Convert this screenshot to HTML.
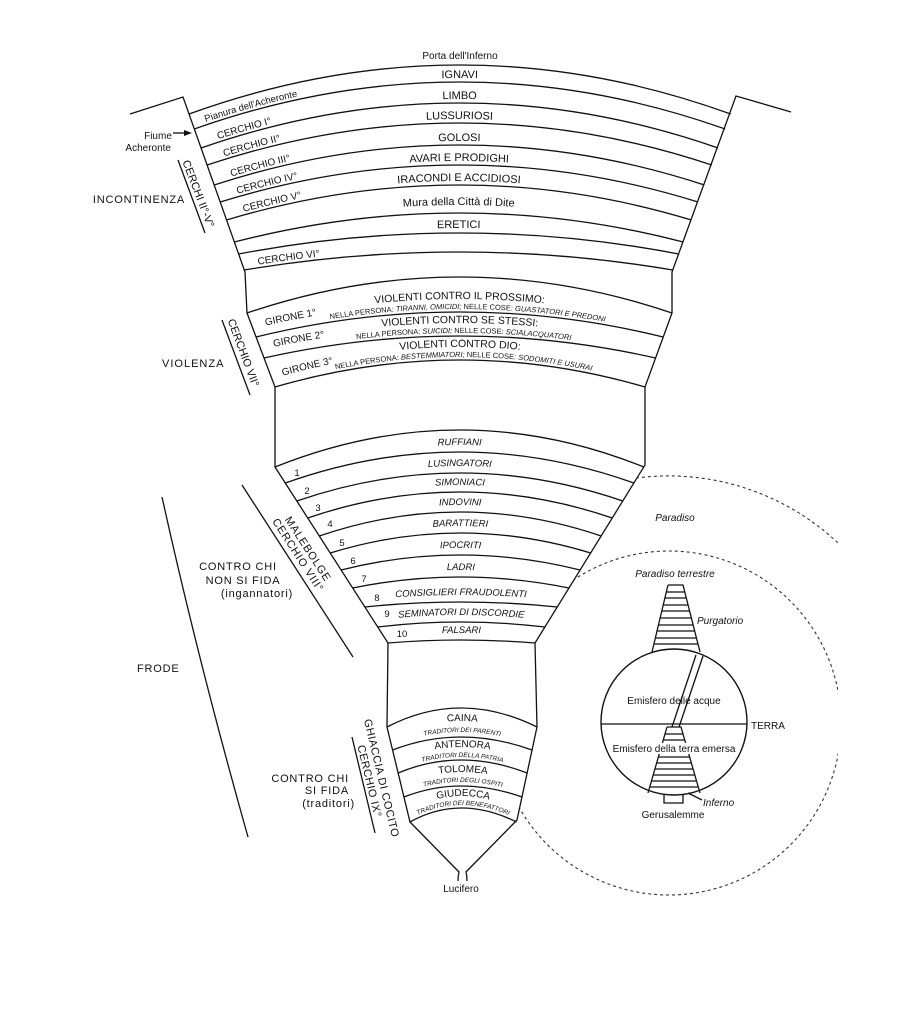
<!DOCTYPE html>
<html><head><meta charset="utf-8"><style>
html,body{margin:0;padding:0;background:#fff;}
svg{display:block;font-family:"Liberation Sans",sans-serif;}
.l{fill:none;stroke:#111;stroke-width:1.3;}
.t{font-size:11px;fill:#111;}
.s{font-size:10px;fill:#111;}
.i{font-style:italic;}
</style></head><body>
<svg width="920" height="1025" viewBox="0 0 920 1025" xmlns="http://www.w3.org/2000/svg">
<defs>
<path id="a2" d="M194.3,129 Q460,35 725.1,129"/>
<path id="a3" d="M201.1,148 Q460,58 718.1,148"/>
<path id="a4" d="M207.1,165 Q460,81 711.8,165"/>
<path id="a5" d="M214.2,185 Q460,105 704.4,185"/>
<path id="a6" d="M220.2,202 Q460,128 698,202"/>
<path id="a7" d="M226.5,220 Q460,150 691.4,220"/>
<path id="a8" d="M234.3,242 Q460,184 683.2,242"/>
<path id="a9" d="M238.6,254 Q460,212 678.8,254"/>
<path id="a10" d="M244.2,270 Q460,234 672.8,270"/>
<path id="v1" d="M256,337 Q460,287 663,337"/>
<path id="v2" d="M264,358 Q460,314 655.6,358"/>
<path id="v3" d="M275,387 Q460,333 645,387"/>
<path id="m1" d="M285.3,483 Q460,421 633.9,483"/>
<path id="m2" d="M296.8,501 Q460,445 622.8,501"/>
<path id="m3" d="M307.7,518 Q460,466 612.2,518"/>
<path id="m4" d="M319.3,536 Q460,488 601.1,536"/>
<path id="m5" d="M330.2,553 Q460,513 590.6,553"/>
<path id="m6" d="M341.1,570 Q460,540 580.1,570"/>
<path id="m7" d="M352.7,588 Q460,566 569,588"/>
<path id="m8" d="M364.9,607 Q460,597 557.2,607"/>
<path id="m9" d="M377.7,627 Q460,617 544.9,627"/>
<path id="m10" d="M388,643 Q460,637 535,643"/>
<path id="c1" d="M392.6,750 Q460,724 532,750"/>
<path id="c2" d="M398.1,773 Q460,747 527.1,773"/>
<path id="c3" d="M404,797 Q460,775 522,797"/>
<path id="c4" d="M410,822 Q460,794 516.6,822"/>
<clipPath id="clp"><rect x="0" y="0" width="838" height="1025"/></clipPath>
</defs>

<g fill="none" stroke="#333" stroke-width="1.1" stroke-dasharray="3,3">
<path d="M630,479 A247,247 0 0,1 838,543"/>
<circle cx="669" cy="723" r="172" clip-path="url(#clp)"/>
</g>

<path fill="#fff" stroke="none" d="M183,97 L245,272 L247,313 L275,387 L275,467 L388,643 L387,727 L410,822 L459,872 L466,872 L517,820 L537,727 L535,643 L645,465 L645,387 L672,313 L672,272 L737,97 L730.7,114 Q460,16 189,114 Z"/>

<path class="l" d="M130,114 L183,97 L245,272 L247,313 L275,387 L275,467 L388,643 L387,727 L410,822 L459,872 Q458,876 458,881"/>
<path class="l" d="M791,112 L736,96 L672,272 L672,313 L645,387 L645,465 L535,643 L537,727 L517,820 L466,872 Q467,876 467,881"/>

<path class="l" d="M189,114 Q460,16 730.7,114"/>
<use href="#a2" class="l"/><use href="#a3" class="l"/><use href="#a4" class="l"/><use href="#a5" class="l"/>
<use href="#a6" class="l"/><use href="#a7" class="l"/><use href="#a8" class="l"/><use href="#a9" class="l"/><use href="#a10" class="l"/>
<path class="l" d="M247,313 Q460,241 672,313"/>
<use href="#v1" class="l"/><use href="#v2" class="l"/><use href="#v3" class="l"/>
<path class="l" d="M275,467 Q460,393 643.8,467"/>
<use href="#m1" class="l"/><use href="#m2" class="l"/><use href="#m3" class="l"/><use href="#m4" class="l"/><use href="#m5" class="l"/>
<use href="#m6" class="l"/><use href="#m7" class="l"/><use href="#m8" class="l"/><use href="#m9" class="l"/><use href="#m10" class="l"/>
<path class="l" d="M387,727 Q460,689 537,727"/>
<use href="#c1" class="l"/><use href="#c2" class="l"/><use href="#c3" class="l"/><use href="#c4" class="l"/>

<text x="460" y="59" class="s" text-anchor="middle">Porta dell'Inferno</text>
<g transform="translate(0,-4)" class="t" text-anchor="middle">
<text><textPath href="#a2" startOffset="50%">IGNAVI</textPath></text>
<text><textPath href="#a3" startOffset="50%">LIMBO</textPath></text>
<text><textPath href="#a4" startOffset="50%">LUSSURIOSI</textPath></text>
<text><textPath href="#a5" startOffset="50%">GOLOSI</textPath></text>
<text><textPath href="#a6" startOffset="50%">AVARI E PRODIGHI</textPath></text>
<text><textPath href="#a7" startOffset="50%">IRACONDI E ACCIDIOSI</textPath></text>
</g>
<g transform="translate(0,-8)" class="t" text-anchor="middle">
<text><textPath href="#a8" startOffset="50%">Mura della Città di Dite</textPath></text>
</g>
<g transform="translate(0,-5)" class="t" text-anchor="middle">
<text><textPath href="#a9" startOffset="50%">ERETICI</textPath></text>
</g>
<g transform="translate(0,-3)" class="s">
<text font-size="9.5"><textPath href="#a2" startOffset="12">Pianura dell'Acheronte</textPath></text>
<text><textPath href="#a3" startOffset="18">CERCHIO I°</textPath></text>
<text><textPath href="#a4" startOffset="18">CERCHIO II°</textPath></text>
<text><textPath href="#a5" startOffset="18">CERCHIO III°</textPath></text>
<text><textPath href="#a6" startOffset="18">CERCHIO IV°</textPath></text>
<text><textPath href="#a7" startOffset="18">CERCHIO V°</textPath></text>
<text><textPath href="#a10" startOffset="14">CERCHIO VI°</textPath></text>
</g>

<text x="158" y="139" class="s" font-size="9" text-anchor="middle">Fiume</text>
<text x="171" y="151" class="s" font-size="9" text-anchor="end">Acheronte</text>
<path class="l" d="M173,133 L186,133" stroke-width="1"/>
<path d="M192,133 L184,130 L184,136 Z" fill="#111"/>

<text x="185" y="203" class="t" letter-spacing="0.8" text-anchor="end">INCONTINENZA</text>
<path class="l" d="M178,160 L205,233"/>
<text transform="translate(195,195) rotate(69)" class="t" text-anchor="middle">CERCHI II°-V°</text>

<g transform="translate(0,-13)" font-size="10.5" fill="#111" text-anchor="middle">
<text><textPath href="#v1" startOffset="50%">VIOLENTI CONTRO IL PROSSIMO:</textPath></text>
<text><textPath href="#v2" startOffset="50%">VIOLENTI CONTRO SE STESSI:</textPath></text>
<text><textPath href="#v3" startOffset="50%">VIOLENTI CONTRO DIO:</textPath></text>
</g>
<g transform="translate(0,-3)" font-size="7.5" fill="#111" text-anchor="middle">
<text><textPath href="#v1" startOffset="52%">NELLA PERSONA: <tspan font-style="italic">TIRANNI, OMICIDI;</tspan> NELLE COSE: <tspan font-style="italic">GUASTATORI E PREDONI</tspan></textPath></text>
<text><textPath href="#v2" startOffset="51%">NELLA PERSONA: <tspan font-style="italic">SUICIDI;</tspan> NELLE COSE: <tspan font-style="italic">SCIALACQUATORI</tspan></textPath></text>
<text><textPath href="#v3" startOffset="51%">NELLA PERSONA: <tspan font-style="italic">BESTEMMIATORI;</tspan> NELLE COSE: <tspan font-style="italic">SODOMITI E USURAI</tspan></textPath></text>
</g>
<g transform="translate(0,-9)" class="s">
<text><textPath href="#v1" startOffset="10">GIRONE 1°</textPath></text>
<text><textPath href="#v2" startOffset="10">GIRONE 2°</textPath></text>
<text><textPath href="#v3" startOffset="8">GIRONE 3°</textPath></text>
</g>
<text x="162" y="367" class="t" letter-spacing="1">VIOLENZA</text>
<path class="l" d="M222,320 L250,395"/>
<text transform="translate(240,354) rotate(69.5)" class="t" text-anchor="middle">CERCHIO VII°</text>

<g transform="translate(0,-7)" font-size="9.5" font-style="italic" fill="#111" text-anchor="middle">
<text><textPath href="#m1" startOffset="50%">RUFFIANI</textPath></text>
<text><textPath href="#m2" startOffset="50%">LUSINGATORI</textPath></text>
<text><textPath href="#m3" startOffset="50%">SIMONIACI</textPath></text>
<text><textPath href="#m4" startOffset="50%">INDOVINI</textPath></text>
<text><textPath href="#m5" startOffset="50%">BARATTIERI</textPath></text>
<text><textPath href="#m6" startOffset="50%">IPOCRITI</textPath></text>
<text><textPath href="#m7" startOffset="50%">LADRI</textPath></text>
<text><textPath href="#m8" startOffset="50%">CONSIGLIERI FRAUDOLENTI</textPath></text>
<text><textPath href="#m9" startOffset="50%">SEMINATORI DI DISCORDIE</textPath></text>
<text><textPath href="#m10" startOffset="50%">FALSARI</textPath></text>
</g>
<g font-size="9.5" fill="#111" text-anchor="middle">
<text x="297" y="476">1</text><text x="307" y="494">2</text><text x="318" y="511">3</text>
<text x="330" y="527">4</text><text x="342" y="546">5</text><text x="353" y="564">6</text>
<text x="364" y="582">7</text><text x="377" y="601">8</text><text x="387" y="617">9</text>
<text x="402" y="637">10</text>
</g>
<path class="l" d="M242,485 L353,657"/>
<text transform="translate(295,557) rotate(57)" class="t" text-anchor="middle" letter-spacing="0.8">CERCHIO VIII°</text>
<text transform="translate(305,551) rotate(57)" class="t" text-anchor="middle" letter-spacing="0.8">MALEBOLGE</text>
<g class="t" text-anchor="middle" letter-spacing="0.8">
<text x="238" y="570">CONTRO CHI</text>
<text x="243" y="584">NON SI FIDA</text>
<text x="257" y="597">(ingannatori)</text>
</g>
<path class="l" d="M162,497 Q198,660 248,837"/>
<text x="137" y="672" class="t" letter-spacing="0.8">FRODE</text>

<g font-size="10" fill="#111" text-anchor="middle">
<text transform="translate(0,-16)"><textPath href="#c1" startOffset="50%">CAINA</textPath></text>
<text transform="translate(0,-13)"><textPath href="#c2" startOffset="50%">ANTENORA</textPath></text>
<text transform="translate(0,-14)"><textPath href="#c3" startOffset="50%">TOLOMEA</textPath></text>
<text transform="translate(0,-12)"><textPath href="#c4" startOffset="50%">GIUDECCA</textPath></text>
</g>
<g font-size="6.5" font-style="italic" fill="#111" text-anchor="middle">
<text transform="translate(0,-5)"><textPath href="#c1" startOffset="50%">TRADITORI DEI PARENTI</textPath></text>
<text transform="translate(0,-3)"><textPath href="#c2" startOffset="50%">TRADITORI DELLA PATRIA</textPath></text>
<text transform="translate(0,-4)"><textPath href="#c3" startOffset="50%">TRADITORI DEGLI OSPITI</textPath></text>
<text transform="translate(0,-3)"><textPath href="#c4" startOffset="50%">TRADITORI DEI BENEFATTORI</textPath></text>
</g>
<text x="461" y="892" class="s" text-anchor="middle">Lucifero</text>
<path class="l" d="M352,737 L375,833"/>
<text transform="translate(366,782) rotate(76.5)" class="t" text-anchor="middle" letter-spacing="0.5">CERCHIO IX°</text>
<text transform="translate(378,779) rotate(76.5)" class="t" text-anchor="middle" letter-spacing="0.5">GHIACCIA DI COCITO</text>
<g class="t" text-anchor="end" letter-spacing="0.8">
<text x="349" y="782">CONTRO CHI</text>
<text x="349" y="794">SI FIDA</text>
<text x="355" y="807">(traditori)</text>
</g>

<text x="675" y="521" class="s i" text-anchor="middle">Paradiso</text>
<text x="675" y="577" class="s i" text-anchor="middle">Paradiso terrestre</text>
<text x="697" y="624" class="s i">Purgatorio</text>
<circle cx="674" cy="722" r="73" fill="none" stroke="#111" stroke-width="1.4"/>
<path class="l" d="M601,724 L747,724"/>
<text x="751" y="729" class="s" font-size="10.5">TERRA</text>
<path class="l" stroke-width="1" d="M668,585 L683,585 L700,652 M668,585 L652,652 M666.3,592 L684.8,592 M664.9,598 L686.3,598 M663.2,605 L688.1,605 M661.8,611 L689.6,611 M660.1,618 L691.4,618 M658.4,625 L693.1,625 M657,631 L694.7,631 M655.3,638 L696.4,638 M653.9,644 L698,644"/>
<path class="l" stroke-width="1" d="M696,655 L672,727 M703,656 L679,727"/>
<path class="l" stroke-width="1" d="M667,727 L681,727 L700,793 M667,727 L648,793 M665,734 L683,734 M663.3,740 L684.7,740 M658.4,757 L689.6,757 M656.6,763 L691.4,763 M654.9,769 L693.1,769 M653.2,775 L694.8,775 M651.4,781 L696.6,781 M649.7,787 L698.3,787 M664,795 L664,803 L683,803 L683,795"/>
<text x="674" y="704" class="s" text-anchor="middle">Emisfero delle acque</text>
<rect x="622" y="743" width="104" height="11" fill="#fff"/>
<text x="674" y="752" class="s" text-anchor="middle">Emisfero della terra emersa</text>
<path class="l" stroke-width="0.9" d="M688,793 L702,800"/>
<text x="703" y="806" class="s i" font-size="9.5">Inferno</text>
<text x="673" y="818" class="s" text-anchor="middle">Gerusalemme</text>
</svg>
</body></html>
